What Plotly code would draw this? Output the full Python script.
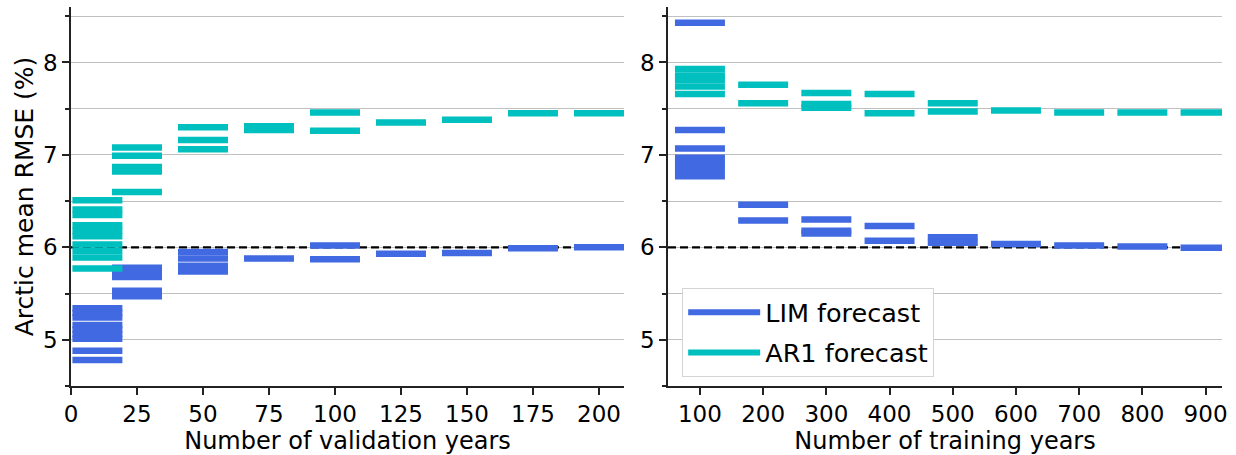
import plotly.graph_objects as go

# Left panel: RMSE samples by number of validation years
val_years = [10, 25, 50, 75, 100, 125, 150, 175, 200]
lim_val = [
    [5.34, 5.29, 5.24, 5.16, 5.11, 5.06, 5.01, 4.88, 4.78],
    [5.78, 5.73, 5.68, 5.53, 5.47],
    [5.95, 5.88, 5.80, 5.74],
    [5.88],
    [6.02, 5.87],
    [5.93],
    [5.94],
    [5.99],
    [6.00],
]
ar1_val = [
    [6.51, 6.41, 6.35, 6.24, 6.18, 6.12, 6.03, 5.96, 5.89, 5.77],
    [7.08, 6.99, 6.87, 6.82, 6.60],
    [7.30, 7.16, 7.06],
    [7.31, 7.27],
    [7.46, 7.26],
    [7.35],
    [7.38],
    [7.45],
    [7.45],
]

# Right panel: RMSE samples by number of training years
train_years = [100, 200, 300, 400, 500, 600, 700, 800, 900]
lim_train = [
    [8.43, 7.27, 7.07, 6.97, 6.90, 6.84, 6.77],
    [6.46, 6.29],
    [6.30, 6.18, 6.15],
    [6.23, 6.07],
    [6.11, 6.05],
    [6.035],
    [6.02],
    [6.01],
    [5.995],
]
ar1_train = [
    [7.93, 7.86, 7.81, 7.74, 7.66],
    [7.76, 7.56],
    [7.67, 7.55, 7.51],
    [7.66, 7.45],
    [7.56, 7.47],
    [7.48],
    [7.46],
    [7.46],
    [7.46],
]

reference_rmse = 6.0
y_ticks = [5, 6, 7, 8]
val_ticks = [0, 25, 50, 75, 100, 125, 150, 175, 200]
train_ticks = [100, 200, 300, 400, 500, 600, 700, 800, 900]

Y_RANGE = [4.5, 8.6]
VAL_RANGE = [0, 209.5]
TRAIN_RANGE = [49.5, 926]

LIM_COLOR = "#4169E1"
AR1_COLOR = "#00BFBF"
FONT = "DejaVu Sans"
SEG_SIZE = 35.7  # line-ew symbol spans 1.4 * size px


def flatten(xs, groups):
    px, py = [], []
    for x, vals in zip(xs, groups):
        for v in vals:
            px.append(x)
            py.append(v)
    return px, py


def seg_trace(xs, groups, color, xa, ya):
    px, py = flatten(xs, groups)
    return go.Scatter(
        x=px, y=py, mode="markers", xaxis=xa, yaxis=ya, showlegend=False,
        hoverinfo="skip",
        marker=dict(symbol="line-ew", size=SEG_SIZE, color=color,
                    line=dict(color=color, width=6.5)),
    )


def ref_line(xrange, xa, ya):
    return go.Scatter(
        x=xrange, y=[reference_rmse, reference_rmse], mode="lines",
        xaxis=xa, yaxis=ya, showlegend=False, hoverinfo="skip",
        line=dict(color="black", width=2.3, dash="8px,4px"),
    )


fig = go.Figure()
# dashed reference line first so the segments sit on top of it
fig.add_trace(ref_line(VAL_RANGE, "x", "y"))
fig.add_trace(ref_line(TRAIN_RANGE, "x2", "y2"))
fig.add_trace(seg_trace(val_years, lim_val, LIM_COLOR, "x", "y"))
fig.add_trace(seg_trace(val_years, ar1_val, AR1_COLOR, "x", "y"))
fig.add_trace(seg_trace(train_years, lim_train, LIM_COLOR, "x2", "y2"))
fig.add_trace(seg_trace(train_years, ar1_train, AR1_COLOR, "x2", "y2"))

# legend entries
fig.add_trace(go.Scatter(x=[None], y=[None], mode="lines", name="LIM forecast",
                         legendgroup="lim",
                         line=dict(color=LIM_COLOR, width=6), xaxis="x2", yaxis="y2"))
fig.add_trace(go.Scatter(x=[None], y=[None], mode="lines", name="AR1 forecast",
                         legendgroup="ar1",
                         line=dict(color=AR1_COLOR, width=6), xaxis="x2", yaxis="y2"))

axis_common = dict(
    showline=True, linecolor="#222222", linewidth=1.5,
    ticks="outside", ticklen=7, tickwidth=1.5, tickcolor="#222222",
    tickfont=dict(family=FONT, size=23, color="black"),
    zeroline=False,
)
y_common = dict(
    axis_common, range=Y_RANGE, tickvals=y_ticks,
    showgrid=True, gridcolor="#c0c0c0", gridwidth=1.3,
    minor=dict(dtick=0.5, tick0=4.5, ticks="outside", ticklen=4,
               tickcolor="#222222", showgrid=True, gridcolor="#c0c0c0",
               gridwidth=1.3),
)

fig.update_layout(
    width=1236, height=455,
    margin=dict(l=71, r=14, t=7, b=67),
    paper_bgcolor="white", plot_bgcolor="white",
    font=dict(family=FONT, color="black"),
    xaxis=dict(axis_common, domain=[0, 0.4805], range=VAL_RANGE,
               tickvals=val_ticks, showgrid=False, anchor="y",
               title=dict(text="Number of validation years",
                          font=dict(family=FONT, size=24), standoff=4)),
    yaxis=dict(y_common, anchor="x",
               title=dict(text="Arctic mean RMSE (%)",
                          font=dict(family=FONT, size=25), standoff=2)),
    xaxis2=dict(axis_common, domain=[0.5187, 1], range=TRAIN_RANGE,
                tickvals=train_ticks, showgrid=False, anchor="y2",
                title=dict(text="Number of training years",
                           font=dict(family=FONT, size=24), standoff=4)),
    yaxis2=dict(y_common, anchor="x2"),
    legend=dict(x=0.531, y=0.258, xanchor="left", yanchor="top",
                bgcolor="white", bordercolor="#d4d4d4", borderwidth=1,
                itemwidth=72, tracegroupgap=4,
                font=dict(family=FONT, size=25.5, color="black")),
)

fig.write_html("out.html")
